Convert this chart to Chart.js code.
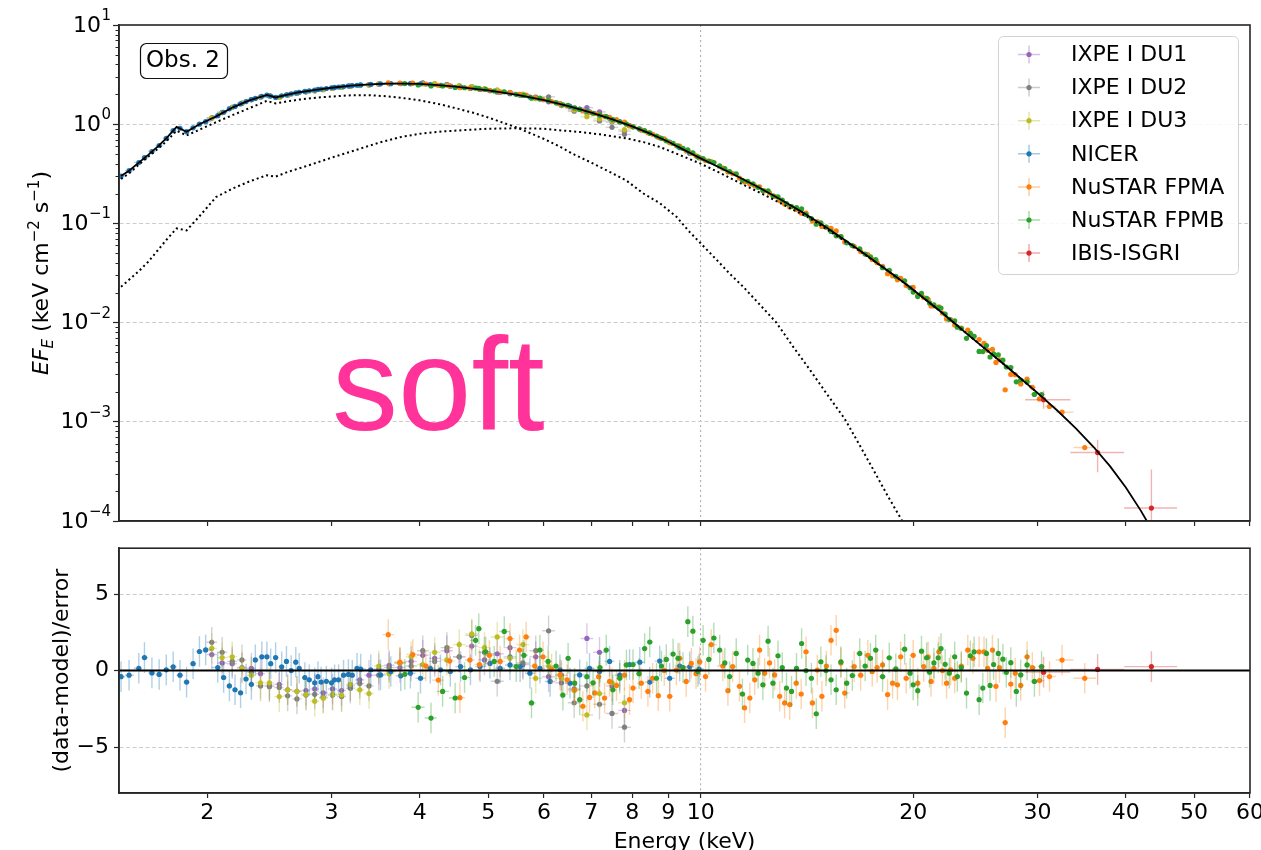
<!DOCTYPE html>
<html>
<head>
<meta charset="utf-8">
<title>Obs. 2 spectrum</title>
<script src="https://cdn.jsdelivr.net/npm/chart.js@4.4.1/dist/chart.umd.min.js"></script>
<style>
  html, body { margin: 0; padding: 0; background: #fff; }
  body { width: 1261px; height: 850px; overflow: hidden; position: relative; }
  #topWrap { position: absolute; left: 0; top: 0; }
  #resWrap { position: absolute; left: 0; top: 530px; }
</style>
</head>
<body>
<div id="topWrap"><canvas id="spectrumChart" width="1290" height="545"></canvas></div>
<div id="resWrap"><canvas id="residualChart" width="1290" height="340"></canvas></div>
<script>
// ---- axis ticks ----
const xTickValues = [2, 3, 4, 5, 6, 7, 8, 9, 10, 20, 30, 40, 50, 60];
const decadeTicks = [1e-4, 1e-3, 1e-2, 1e-1, 1, 10];
const residTicks = [-5, 0, 5];

// ---- best-fit model (keV, EF_E) ----
const modelEnergy = [1.51, 1.55, 1.60, 1.65, 1.70, 1.75, 1.81, 1.87, 1.95, 2.06,
  2.175, 2.295, 2.43, 2.50, 2.60, 2.70, 2.85, 3.0, 3.2, 3.4,
  3.6, 3.8, 4.0, 4.25, 4.5, 4.75, 5.0, 5.5, 6.0, 6.5,
  7.0, 7.5, 8.0, 8.5, 9.0, 9.5, 10, 11, 12, 13,
  14, 15, 16, 17, 18, 19, 20, 22, 24, 26,
  28, 30, 32, 34, 36, 38, 40, 42, 44];
const modelFlux = [0.30, 0.34, 0.41, 0.49, 0.59, 0.72, 0.94, 0.84, 1.00, 1.20,
  1.48, 1.74, 1.97, 1.86, 1.99, 2.10, 2.22, 2.33, 2.45, 2.52,
  2.56, 2.57, 2.55, 2.48, 2.39, 2.28, 2.19, 1.98, 1.75, 1.52,
  1.31, 1.12, 0.95, 0.80, 0.665, 0.545, 0.452, 0.326, 0.237, 0.173,
  0.127, 0.093, 0.068, 0.0503, 0.0375, 0.0283, 0.0214, 0.0125, 0.0074, 0.00464,
  0.00298, 0.00196, 0.0013, 0.00086, 0.00056, 0.000357, 0.000219, 0.000128, 0.0000725];

// disk component (dotted)
const diskEnergy = [1.51, 1.55, 1.60, 1.65, 1.70, 1.75, 1.81, 1.87, 1.95, 2.06,
  2.175, 2.295, 2.43, 2.50, 2.60, 2.70, 2.85, 3.0, 3.2, 3.4,
  3.6, 3.8, 4.0, 4.25, 4.5, 4.75, 5.0, 5.5, 6.0, 6.3,
  6.6, 7.0, 7.5, 7.85, 8.3, 8.75, 9.25, 9.6, 10, 10.5,
  11, 11.5, 12.2, 12.8, 13.5, 14.3, 15.1, 16.0, 16.8, 17.6,
  18.4, 19.3, 20.0];
const diskFlux = [0.28, 0.32, 0.39, 0.47, 0.56, 0.67, 0.86, 0.77, 0.88, 1.05,
  1.24, 1.45, 1.72, 1.62, 1.70, 1.77, 1.85, 1.90, 1.96, 1.96,
  1.91, 1.83, 1.74, 1.60, 1.45, 1.31, 1.17, 0.92, 0.71, 0.60,
  0.50, 0.41, 0.32, 0.27, 0.20, 0.16, 0.116, 0.085, 0.063, 0.044,
  0.031, 0.0228, 0.0145, 0.010, 0.0058, 0.0033, 0.0019, 0.00107, 0.00058, 0.00032,
  0.00018, 0.0001, 0.000063];

// comptonised component (dotted)
const comptEnergy = [1.51, 1.55, 1.60, 1.65, 1.70, 1.75, 1.81, 1.87, 1.95, 2.06,
  2.175, 2.295, 2.43, 2.50, 2.60, 2.80, 3.0, 3.25, 3.5, 3.75,
  4.0, 4.3, 4.66, 5.0, 5.5, 6.0, 6.3, 6.8, 7.2, 7.85,
  8.3, 8.75, 9.4, 10, 10.7, 11.5, 12.2, 12.8, 13.5, 14.3,
  15, 16, 17, 18, 19, 20, 22, 24, 26, 28, 30];
const comptFlux = [0.023, 0.027, 0.033, 0.041, 0.053, 0.068, 0.089, 0.085, 0.118, 0.185,
  0.225, 0.265, 0.306, 0.296, 0.33, 0.39, 0.46, 0.55, 0.65, 0.74,
  0.80, 0.845, 0.875, 0.90, 0.91, 0.90, 0.87, 0.83, 0.79, 0.72,
  0.66, 0.59, 0.48, 0.40, 0.318, 0.245, 0.20, 0.168, 0.138, 0.112,
  0.0895, 0.0664, 0.0498, 0.0373, 0.0282, 0.0214, 0.0125, 0.0074, 0.00464, 0.00298, 0.00196];

// ---- NICER ----
const nicerEnergy = [1.51, 1.55, 1.60, 1.63, 1.67, 1.71, 1.75, 1.79, 1.83, 1.87,
  1.91, 1.95, 1.99, 2.07, 2.11, 2.15, 2.19, 2.23, 2.27, 2.31,
  2.34, 2.39, 2.43, 2.46, 2.50, 2.55, 2.59, 2.63, 2.67, 2.70,
  2.75, 2.79, 2.84, 2.87, 2.90, 2.95, 3.00, 3.03, 3.07, 3.12,
  3.17, 3.21, 3.26, 3.30, 3.41, 3.52, 3.64, 3.76, 3.88, 4.01,
  4.14, 4.28, 4.42, 4.57, 4.72, 4.87, 5.03, 5.20, 5.37, 5.55,
  5.73, 5.92, 6.12, 6.32, 6.53, 6.74, 6.96, 7.19, 7.43, 7.68,
  7.93, 8.20, 8.47, 8.75, 9.04, 9.34, 9.65, 9.95];
const nicerFlux = [0.30, 0.34, 0.41, 0.46, 0.53, 0.61, 0.72, 0.86, 0.91, 0.84,
  0.92, 1.00, 1.06, 1.22, 1.32, 1.43, 1.51, 1.60, 1.69, 1.77,
  1.82, 1.91, 1.97, 1.92, 1.86, 1.93, 1.98, 2.02, 2.07, 2.10,
  2.14, 2.17, 2.21, 2.24, 2.26, 2.29, 2.33, 2.35, 2.37, 2.40,
  2.43, 2.45, 2.47, 2.49, 2.52, 2.55, 2.56, 2.57, 2.56, 2.55,
  2.51, 2.47, 2.42, 2.36, 2.29, 2.24, 2.18, 2.10, 2.03, 1.96,
  1.88, 1.79, 1.70, 1.61, 1.51, 1.42, 1.33, 1.24, 1.15, 1.06,
  0.97, 0.89, 0.81, 0.73, 0.66, 0.58, 0.51, 0.46];
const nicerResid = [-0.4, -0.3, 0.15, 0.85, -0.15, -0.25, 0.05, 0.25, -0.3, -0.75,
  0.45, 1.25, 1.35, 0.2, -0.45, -1.0, -1.25, -1.45, -0.55, -0.9,
  0.7, 0.9, 0.9, 0.45, 0.85, 0.25, 0.6, 0.0, 0.55, 0.15,
  -0.45, -0.6, -0.8, -0.4, -0.75, -0.7, -0.8, -0.6, -0.6, -0.3,
  -0.25, -0.3, 0.15, 0.1, 0.05, -0.28, -0.06, -0.34, -0.17, -0.5,
  0.15, 0.05, -0.06, 0.26, 0.05, 0.26, 0.47, 0.15, 0.37, 0.26,
  -0.17, 0.15, -0.71, 0.05, -0.82, -0.28, 0.15, -0.06, 0.6, -0.3,
  0.4, 0.55, -0.75, 0.62, -0.5, 0.3, 0.25, 0.1];

// ---- IXPE (same binning for the three detector units) ----
const ixpeEnergy = [2.03, 2.10, 2.17, 2.24, 2.31, 2.38, 2.45, 2.53, 2.60, 2.68,
  2.76, 2.84, 2.92, 3.01, 3.10, 3.19, 3.29, 3.39, 3.50, 3.62,
  3.75, 3.89, 4.04, 4.20, 4.37, 4.55, 4.74, 4.94, 5.15, 5.37,
  5.60, 5.84, 6.09, 6.35, 6.62, 6.90, 7.19, 7.49, 7.80];
const du1Flux = [1.15, 1.31, 1.48, 1.62, 1.77, 1.89, 1.93, 1.87, 1.97, 2.05,
  2.12, 2.18, 2.24, 2.30, 2.36, 2.42, 2.47, 2.51, 2.54, 2.57,
  2.58, 2.58, 2.59, 2.54, 2.50, 2.41, 2.36, 2.24, 2.18, 2.10,
  1.96, 1.86, 1.68, 1.54, 1.40, 1.47, 1.33, 1.05, 0.85];
const du1Resid = [1.05, 0.5, 0.45, 0.2, 0.15, -0.2, -0.95, -0.9, -1.25, -1.35,
  -1.3, -1.2, -1.45, -1.2, -1.3, -1.0, -0.6, -0.3, 0.1, 0.35,
  0.2, 0.6, 1.0, 0.8, 1.3, 0.9, 1.6, 0.7, 1.1, 1.5,
  0.4, 0.9, -0.4, -0.8, -1.2, 2.1, 1.2, -1.0, -2.6];
const du2Flux = [1.16, 1.32, 1.48, 1.63, 1.77, 1.87, 1.93, 1.87, 1.96, 2.04,
  2.12, 2.18, 2.23, 2.29, 2.35, 2.41, 2.46, 2.49, 2.53, 2.57,
  2.58, 2.57, 2.61, 2.53, 2.51, 2.41, 2.40, 2.26, 2.10, 2.08,
  1.96, 1.88, 1.89, 1.57, 1.35, 1.30, 1.08, 0.93, 0.79];
const du2Resid = [1.85, 1.2, 0.6, 0.7, -0.1, -1.0, -1.05, -1.1, -1.65, -1.85,
  -1.6, -1.55, -1.75, -1.6, -1.7, -1.15, -0.85, -1.0, -0.3, 0.2,
  0.5, 0.3, 1.3, 0.6, 1.5, 0.9, 2.3, 1.2, -0.7, 0.9,
  0.5, 1.3, 2.6, -0.3, -2.1, -1.0, -2.2, -2.8, -3.7];
const du3Flux = [1.16, 1.31, 1.48, 1.62, 1.76, 1.88, 1.93, 1.86, 1.97, 2.05,
  2.12, 2.17, 2.23, 2.29, 2.35, 2.42, 2.45, 2.48, 2.55, 2.56,
  2.58, 2.58, 2.55, 2.56, 2.47, 2.45, 2.40, 2.28, 2.22, 2.07,
  2.01, 1.81, 1.73, 1.56, 1.39, 1.19, 1.13, 1.07, 0.88];
const du3Resid = [1.45, 0.85, 0.9, 0.15, -0.3, -0.8, -0.8, -1.7, -1.25, -1.35,
  -1.55, -2.0, -1.8, -1.55, -1.6, -0.9, -1.25, -1.5, 0.3, -0.2,
  0.5, 0.9, 0.4, 1.2, 0.7, 1.7, 2.4, 1.5, 2.2, 0.8,
  1.7, -0.5, 0.3, -0.5, -1.3, -2.9, -1.5, -0.8, -2.1];

// ---- NuSTAR FPMA ----
const fpmaEnergy = [3.61, 3.75, 3.91, 4.08, 4.25, 4.41, 4.56, 4.71, 4.86, 5.02,
  5.20, 5.37, 5.54, 5.66, 5.82, 5.98, 6.15, 6.32, 6.47, 6.63,
  6.81, 6.96, 7.08, 7.17, 7.31, 7.43, 7.60, 7.80, 7.93, 8.02,
  8.24, 8.42, 8.55, 8.71, 8.88, 9.04, 9.24, 9.34, 9.54, 9.70,
  9.85, 9.97, 10.16, 10.35, 10.75, 10.93, 11.10, 11.35, 11.54, 11.74,
  11.93, 12.12, 12.32, 12.52, 12.73, 12.94, 13.15, 13.37, 13.66, 13.88,
  14.10, 14.40, 14.63, 14.85, 15.07, 15.30, 15.56, 15.80, 16.00, 16.50,
  16.85, 17.25, 17.50, 17.78, 18.10, 18.40, 18.70, 19.00, 19.20, 19.55,
  20.00, 20.30, 20.70, 21.00, 21.20, 21.40, 21.75, 22.00, 22.30, 22.60,
  22.90, 23.40, 23.90, 24.30, 24.80, 25.20, 25.50, 25.90, 26.20, 26.50,
  27.00, 27.50, 27.90, 28.40, 29.00, 29.50, 30.20, 31.20, 32.50, 35.00];
const fpmaFlux = [2.61, 2.58, 2.59, 2.54, 2.47, 2.43, 2.33, 2.31, 2.25, 2.20,
  2.11, 2.08, 2.00, 1.96, 1.86, 1.77, 1.69, 1.61, 1.53, 1.45,
  1.37, 1.32, 1.28, 1.26, 1.20, 1.17, 1.11, 1.05, 0.96, 0.94,
  0.87, 0.82, 0.79, 0.74, 0.71, 0.65, 0.61, 0.60, 0.54, 0.51,
  0.48, 0.46, 0.43, 0.42, 0.36, 0.33, 0.318, 0.287, 0.262, 0.249,
  0.239, 0.234, 0.213, 0.203, 0.187, 0.170, 0.157, 0.146, 0.138, 0.127,
  0.127, 0.106, 0.104, 0.0932, 0.0916, 0.0894, 0.0840, 0.0734, 0.0650, 0.0588,
  0.0520, 0.0486, 0.0433, 0.0402, 0.0370, 0.0311, 0.0296, 0.0270, 0.0279, 0.0236,
  0.0226, 0.0188, 0.0179, 0.0172, 0.0147, 0.0147, 0.0144, 0.0125, 0.0109, 0.0107,
  0.00948, 0.00882, 0.00840, 0.00732, 0.00675, 0.00619, 0.00526, 0.00538, 0.00397, 0.00422,
  0.00210, 0.00300, 0.00298, 0.00241, 0.00269, 0.00223, 0.00170, 0.00143, 0.00125, 0.00055];
const fpmaResid = [2.35, 0.55, 1.05, 0.3, -0.62, 0.62, -1.77, 0.69, 0.4, 1.0,
  0.6, 2.09, 1.34, 2.2, 0.3, 0.9, 0.1, -0.28, -0.6, -1.25,
  -2.33, -1.75, -1.46, -0.4, -1.79, -0.71, -0.97, -0.3, -1.9, -1.14,
  -0.82, -1.36, -0.5, -1.64, 0.0, -1.68, 0.04, 0.8, -0.71, 0.47,
  -0.2, 0.58, -0.39, 1.7, 0.3, -1.31, 0.26, -1.03, -2.43, -1.79,
  -0.6, 1.34, -0.17, 0.5, -0.28, -1.68, -2.11, -2.22, -0.82, -1.53,
  1.23, -2.11, 0.04, -1.68, 0.3, 1.98, 2.63, 0.5, -1.47, 0.26,
  -0.3, 1.0, -0.06, 0.2, 0.37, -1.57, -0.82, -0.93, 0.9, -0.5,
  1.0, -0.82, 0.26, 0.9, -0.71, 0.15, 1.23, 0.0, -0.82, 0.05,
  -0.5, 0.3, 1.34, 0.8, 1.23, 1.23, 0.15, 1.34, -1.03, 0.2,
  -3.4, -0.88, -0.17, -0.97, 0.9, 0.2, -0.65, -0.39, 0.69, -0.5];

// ---- NuSTAR FPMB ----
const fpmbEnergy = [3.81, 3.98, 4.15, 4.31, 4.49, 4.63, 4.80, 4.85, 4.96, 5.10,
  5.27, 5.48, 5.62, 5.76, 5.92, 6.08, 6.24, 6.38, 6.49, 6.63,
  6.74, 6.90, 7.04, 7.20, 7.35, 7.51, 7.68, 7.85, 8.02, 8.18,
  8.33, 8.47, 8.66, 8.80, 8.94, 9.14, 9.29, 9.44, 9.59, 9.75,
  9.91, 10.08, 10.27, 10.44, 10.64, 10.82, 10.99, 11.23, 11.46, 11.66,
  11.86, 12.06, 12.25, 12.46, 12.66, 12.87, 13.05, 13.23, 13.45, 13.67,
  13.90, 14.10, 14.35, 14.58, 14.80, 15.05, 15.30, 15.56, 15.80, 16.10,
  16.40, 16.80, 17.10, 17.40, 17.70, 18.10, 18.50, 18.90, 19.45, 19.80,
  20.00, 20.30, 20.55, 20.90, 21.10, 21.40, 21.70, 21.90, 22.20, 22.50,
  22.90, 23.10, 23.40, 23.80, 24.10, 24.40, 24.80, 25.10, 25.40, 25.70,
  26.00, 26.40, 26.80, 27.10, 27.50, 28.00, 28.40, 29.00, 29.70, 30.40];
const fpmbFlux = [2.57, 2.49, 2.43, 2.43, 2.35, 2.33, 2.31, 2.30, 2.24, 2.16,
  2.12, 1.99, 1.95, 1.83, 1.83, 1.73, 1.65, 1.57, 1.55, 1.46,
  1.41, 1.35, 1.29, 1.24, 1.19, 1.11, 1.05, 1.00, 0.94, 0.90,
  0.86, 0.82, 0.76, 0.72, 0.68, 0.64, 0.60, 0.57, 0.55, 0.515,
  0.47, 0.45, 0.425, 0.41, 0.38, 0.356, 0.333, 0.315, 0.272, 0.266,
  0.250, 0.231, 0.214, 0.213, 0.190, 0.185, 0.172, 0.158, 0.148, 0.144,
  0.140, 0.123, 0.112, 0.098, 0.101, 0.092, 0.083, 0.075, 0.0735, 0.0637,
  0.0598, 0.0555, 0.0491, 0.0460, 0.0431, 0.0358, 0.0337, 0.0292, 0.0264, 0.0224,
  0.0203, 0.0183, 0.0197, 0.0176, 0.0158, 0.0151, 0.0142, 0.0140, 0.0122, 0.0108,
  0.0104, 0.0090, 0.00872, 0.00694, 0.00780, 0.00727, 0.00512, 0.00510, 0.00586, 0.00450,
  0.00483, 0.00474, 0.00418, 0.00357, 0.00352, 0.00253, 0.00264, 0.00252, 0.00189, 0.00188];
const fpmbResid = [-0.24, -2.4, -3.1, -1.36, -1.79, -0.45, 1.98, 2.74, 1.23, 0.6,
  2.56, 0.26, 1.0, -2.11, 1.34, 0.6, 0.3, -1.6, 0.8, -0.82,
  -1.9, -0.4, -0.8, 0.2, 1.34, -1.25, -0.5, 0.37, 0.4, -0.2,
  1.44, 1.87, -0.5, 0.3, 0.73, 1.08, 0.8, 0.2, 3.2, 2.58,
  -0.06, 1.98, 0.73, 2.13, 1.34, 0.5, -0.39, 1.12, -1.53, 0.69,
  0.47, -0.17, -0.93, 1.92, -0.82, 0.97, 0.2, -1.14, -1.36, 0.15,
  1.77, 0.0, -0.5, -2.82, 0.58, 0.0, -0.6, -1.25, 0.58, -0.82,
  -0.32, 1.12, 0.3, 0.8, 1.34, -0.39, 0.84, 0.11, 1.4, -0.17,
  -0.93, -1.31, 1.27, 0.84, -0.1, 0.5, 0.84, 1.44, 0.41, -0.17,
  0.9, -0.39, 0.2, -1.47, 0.97, 1.23, -1.9, -1.14, 1.12, -0.97,
  0.4, 1.12, 0.75, -0.11, 0.52, -1.36, -0.28, 0.37, -0.71, 0.26];

// ---- INTEGRAL IBIS-ISGRI ----
const isgriEnergy = [30.6, 36.5, 43.5];
const isgriELo = [28.8, 33.4, 39.8];
const isgriEHi = [33.4, 39.8, 47.3];
const isgriFlux = [0.00167, 0.00049, 0.000135];
const isgriFluxLo = [0.00135, 0.00031, 0.00003];
const isgriFluxHi = [0.00205, 0.00066, 0.00033];
const isgriResid = [-0.1, 0.08, 0.26];

const FONT = "'DejaVu Sans', 'Liberation Sans', Arial, sans-serif";
const SPINE = '#262626';
const GRID_H = '#cdcdcd';
const GRID_V = '#b0b0b0';

const instruments = [
  { label: 'IXPE I DU1', color: '#9467bd' },
  { label: 'IXPE I DU2', color: '#7f7f7f' },
  { label: 'IXPE I DU3', color: '#bcbd22' },
  { label: 'NICER', color: '#1f77b4' },
  { label: 'NuSTAR FPMA', color: '#ff7f0e' },
  { label: 'NuSTAR FPMB', color: '#2ca02c' },
  { label: 'IBIS-ISGRI', color: '#d62728' }
];

function fade(hex, a) {
  const n = parseInt(hex.slice(1), 16);
  return `rgba(${(n >> 16) & 255}, ${(n >> 8) & 255}, ${n & 255}, ${a})`;
}

// bins are contiguous: each channel reaches half way (in log) to its neighbours
function binEdges(energies) {
  const lo = [], hi = [];
  energies.forEach((e, i) => {
    const prev = energies[i - 1], next = energies[i + 1];
    const l = prev ? Math.sqrt(prev * e) : e / Math.sqrt(next / e);
    const h = next ? Math.sqrt(e * next) : e * Math.sqrt(e / prev);
    lo.push(l); hi.push(h);
  });
  return { lo, hi };
}

// one scatter dataset with its error bars
function makeSet(inst, energies, values, order, opts) {
  const edges = opts.lo ? { lo: opts.lo, hi: opts.hi } : binEdges(energies);
  return {
    label: inst.label,
    order: order,
    data: energies.map((e, i) => ({ x: e, y: values[i] })),
    backgroundColor: inst.color,
    borderColor: inst.color,
    pointRadius: 2.6,
    pointHoverRadius: 2.6,
    pointBorderWidth: 0,
    barColor: fade(inst.color, 0.35),
    bars: energies.map((e, i) => ({
      x: e, y: values[i],
      xLo: edges.lo[i], xHi: edges.hi[i],
      yLo: opts.yLo ? opts.yLo(i) : null,
      yHi: opts.yHi ? opts.yHi(i) : null
    }))
  };
}

function modelLine(energies, flux, dashed) {
  return {
    type: 'line',
    order: dashed ? 1 : 0,
    data: energies.map((e, i) => ({ x: e, y: flux[i] })),
    borderColor: '#000',
    borderWidth: dashed ? 2 : 1.8,
    borderDash: dashed ? [2, 3] : [],
    pointRadius: 0,
    showLine: true,
    fill: false,
    tension: 0
  };
}

const errorBarPlugin = {
  id: 'errorBars',
  beforeDatasetDraw(chart, args) {
    const ds = chart.data.datasets[args.index];
    if (!ds.bars) return;
    const { ctx, chartArea: a, scales: { x, y } } = chart;
    ctx.save();
    ctx.beginPath();
    ctx.rect(a.left, a.top, a.right - a.left, a.bottom - a.top);
    ctx.clip();
    ctx.strokeStyle = ds.barColor;
    ctx.lineWidth = 1.4;
    ds.bars.forEach(b => {
      const px = x.getPixelForValue(b.x);
      const py = y.getPixelForValue(b.y);
      ctx.beginPath();
      ctx.moveTo(x.getPixelForValue(b.xLo), py);
      ctx.lineTo(x.getPixelForValue(b.xHi), py);
      if (b.yLo !== null) {
        ctx.moveTo(px, y.getPixelForValue(b.yLo));
        ctx.lineTo(px, y.getPixelForValue(b.yHi));
      }
      ctx.stroke();
    });
    ctx.restore();
  }
};

function drawFrame(chart) {
  const { ctx, chartArea: a } = chart;
  ctx.save();
  ctx.strokeStyle = SPINE;
  ctx.lineWidth = 1.6;
  ctx.strokeRect(a.left, a.top, a.right - a.left, a.bottom - a.top);
  ctx.restore();
}

function roundRect(ctx, x, y, w, h, r) {
  ctx.beginPath();
  ctx.moveTo(x + r, y);
  ctx.arcTo(x + w, y, x + w, y + h, r);
  ctx.arcTo(x + w, y + h, x, y + h, r);
  ctx.arcTo(x, y + h, x, y, r);
  ctx.arcTo(x, y, x + w, y, r);
  ctx.closePath();
}

// pieces of text laid out along a rotated baseline
function drawRotatedRich(ctx, parts, cx, cy) {
  ctx.save();
  ctx.translate(cx, cy);
  ctx.rotate(-Math.PI / 2);
  ctx.fillStyle = '#000';
  ctx.textBaseline = 'alphabetic';
  ctx.textAlign = 'left';
  let total = 0;
  parts.forEach(p => { ctx.font = p.font; p.w = ctx.measureText(p.text).width; total += p.w; });
  let x = -total / 2;
  parts.forEach(p => { ctx.font = p.font; ctx.fillText(p.text, x, p.dy); x += p.w; });
  ctx.restore();
}

const spectrumDecor = {
  id: 'spectrumDecor',
  afterDraw(chart) {
    const { ctx, chartArea: a, scales: { y } } = chart;
    // minor ticks on the log y axis
    ctx.save();
    ctx.strokeStyle = SPINE;
    ctx.lineWidth = 1;
    for (let p = -4; p < 1; p++) {
      for (let m = 2; m <= 9; m++) {
        const py = Math.round(y.getPixelForValue(m * Math.pow(10, p))) + 0.5;
        ctx.beginPath();
        ctx.moveTo(a.left - 3.5, py);
        ctx.lineTo(a.left, py);
        ctx.stroke();
      }
    }
    ctx.restore();
    drawFrame(chart);

    // decade labels 10^n
    ctx.save();
    ctx.fillStyle = '#000';
    ctx.textAlign = 'right';
    ctx.textBaseline = 'alphabetic';
    decadeTicks.forEach(v => {
      const exp = Math.round(Math.log10(v));
      const sup = exp < 0 ? '\u2212' + Math.abs(exp) : String(exp);
      const py = y.getPixelForValue(v);
      ctx.font = `15px ${FONT}`;
      const ws = ctx.measureText(sup).width;
      ctx.fillText(sup, 111, py - 5);
      ctx.font = `22px ${FONT}`;
      ctx.fillText('10', 111 - ws - 0.5, py + 6.5);
    });
    ctx.restore();

    // y label: EF_E (keV cm^-2 s^-1)
    drawRotatedRich(ctx, [
      { text: 'E', font: `italic 22px ${FONT}`, dy: 8 },
      { text: 'F', font: `italic 22px ${FONT}`, dy: 8 },
      { text: 'E', font: `italic 15px ${FONT}`, dy: 13 },
      { text: ' (keV cm', font: `22px ${FONT}`, dy: 8 },
      { text: '\u22122', font: `15px ${FONT}`, dy: -1 },
      { text: ' s', font: `22px ${FONT}`, dy: 8 },
      { text: '\u22121', font: `15px ${FONT}`, dy: -1 },
      { text: ')', font: `22px ${FONT}`, dy: 8 }
    ], 40, (a.top + a.bottom) / 2);

    // observation tag
    ctx.save();
    roundRect(ctx, 140.5, 43.5, 87, 35, 6);
    ctx.fillStyle = '#fff';
    ctx.fill();
    ctx.strokeStyle = '#111';
    ctx.lineWidth = 1.2;
    ctx.stroke();
    ctx.fillStyle = '#000';
    ctx.font = `23px ${FONT}`;
    ctx.textAlign = 'left';
    ctx.textBaseline = 'middle';
    ctx.fillText('Obs. 2', 146, 61.5);
    ctx.restore();

    // legend
    ctx.save();
    roundRect(ctx, 998.5, 36.5, 240, 238, 5);
    ctx.fillStyle = 'rgba(255,255,255,0.85)';
    ctx.fill();
    ctx.strokeStyle = '#d2d2d2';
    ctx.lineWidth = 1;
    ctx.stroke();
    instruments.forEach((inst, i) => {
      const cy = 54.5 + i * 33.1;
      const cx = 1029;
      ctx.strokeStyle = fade(inst.color, 0.4);
      ctx.lineWidth = 1.5;
      ctx.beginPath();
      ctx.moveTo(cx - 11, cy); ctx.lineTo(cx + 11, cy);
      ctx.moveTo(cx, cy - 9); ctx.lineTo(cx, cy + 9);
      ctx.stroke();
      ctx.fillStyle = inst.color;
      ctx.beginPath();
      ctx.arc(cx, cy, 2.6, 0, Math.PI * 2);
      ctx.fill();
      ctx.fillStyle = '#000';
      ctx.font = `22px ${FONT}`;
      ctx.textAlign = 'left';
      ctx.textBaseline = 'middle';
      ctx.fillText(inst.label, 1071, cy + 1);
    });
    ctx.restore();

    // overlay label
    ctx.save();
    ctx.fillStyle = '#ff3399';
    ctx.font = "132px 'Liberation Sans', Arial, Helvetica, sans-serif";
    ctx.textAlign = 'left';
    ctx.textBaseline = 'alphabetic';
    ctx.fillText('soft', 332, 430);
    ctx.restore();
  }
};

const residualDecor = {
  id: 'residualDecor',
  afterDatasetsDraw(chart) {
    const { ctx, chartArea: a, scales: { y } } = chart;
    const py = y.getPixelForValue(0);
    ctx.save();
    ctx.strokeStyle = '#000';
    ctx.lineWidth = 2;
    ctx.beginPath();
    ctx.moveTo(a.left, py);
    ctx.lineTo(a.right, py);
    ctx.stroke();
    ctx.restore();
  },
  afterDraw(chart) {
    drawFrame(chart);
  }
};

function xScale(showLabels) {
  return {
    type: 'logarithmic',
    min: 1.5,
    max: 60,
    afterBuildTicks: s => { s.ticks = xTickValues.map(v => ({ value: v })); },
    afterFit: s => { s.height = showLabels ? 77 : 24; },
    ticks: {
      display: showLabels,
      autoSkip: false,
      maxRotation: 0,
      minRotation: 0,
      padding: 2,
      color: '#000',
      font: { family: FONT, size: 22 },
      callback: v => String(v)
    },
    grid: {
      color: c => (c.tick && c.tick.value === 10) ? GRID_V : 'transparent',
      lineWidth: 1.1,
      drawTicks: true,
      tickLength: 5,
      tickColor: SPINE,
      tickWidth: 1.2
    },
    border: { display: true, color: SPINE, width: 1.6, dash: [2, 3] },
    title: {
      display: showLabels,
      text: 'Energy (keV)',
      color: '#000',
      font: { family: FONT, size: 22 },
      padding: { top: 0, bottom: 15 }
    }
  };
}

const baseOptions = {
  responsive: false,
  maintainAspectRatio: false,
  devicePixelRatio: 1,
  animation: false,
  events: [],
  plugins: { legend: { display: false }, tooltip: { enabled: false } }
};

// ---------- upper panel: unfolded spectrum ----------
const spectrumSets = [
  modelLine(modelEnergy, modelFlux, false),
  modelLine(diskEnergy, diskFlux, true),
  modelLine(comptEnergy, comptFlux, true),
  makeSet(instruments[6], isgriEnergy, isgriFlux, 2, {
    lo: isgriELo, hi: isgriEHi, yLo: i => isgriFluxLo[i], yHi: i => isgriFluxHi[i]
  }),
  makeSet(instruments[5], fpmbEnergy, fpmbFlux, 3, {}),
  makeSet(instruments[4], fpmaEnergy, fpmaFlux, 4, {}),
  makeSet(instruments[3], nicerEnergy, nicerFlux, 5, {}),
  makeSet(instruments[2], ixpeEnergy, du3Flux, 6, {}),
  makeSet(instruments[1], ixpeEnergy, du2Flux, 7, {}),
  makeSet(instruments[0], ixpeEnergy, du1Flux, 8, {})
];

new Chart(document.getElementById('spectrumChart'), {
  type: 'scatter',
  data: { datasets: spectrumSets },
  options: Object.assign({}, baseOptions, {
    layout: { padding: { left: 0, top: 25, right: 40, bottom: 0 } },
    scales: {
      x: xScale(false),
      y: {
        type: 'logarithmic',
        min: 1e-4,
        max: 10,
        afterBuildTicks: s => { s.ticks = decadeTicks.map(v => ({ value: v })); },
        afterFit: s => { s.width = 119; },
        ticks: { display: false },
        grid: {
          color: c => (c.tick && c.tick.value > 1e-4 && c.tick.value < 10) ? GRID_H : 'transparent',
          lineWidth: 1,
          tickLength: 6,
          tickColor: SPINE,
          tickWidth: 1.2
        },
        border: { display: true, color: SPINE, width: 1.6, dash: [4, 2.5] }
      }
    }
  }),
  plugins: [errorBarPlugin, spectrumDecor]
});

// ---------- lower panel: residuals ----------
const sigma = values => ({ yLo: i => values[i] - 1, yHi: i => values[i] + 1 });
const residualSets = [
  makeSet(instruments[6], isgriEnergy, isgriResid, 2, Object.assign({ lo: isgriELo, hi: isgriEHi }, sigma(isgriResid))),
  makeSet(instruments[5], fpmbEnergy, fpmbResid, 3, sigma(fpmbResid)),
  makeSet(instruments[4], fpmaEnergy, fpmaResid, 4, sigma(fpmaResid)),
  makeSet(instruments[3], nicerEnergy, nicerResid, 5, sigma(nicerResid)),
  makeSet(instruments[2], ixpeEnergy, du3Resid, 6, sigma(du3Resid)),
  makeSet(instruments[1], ixpeEnergy, du2Resid, 7, sigma(du2Resid)),
  makeSet(instruments[0], ixpeEnergy, du1Resid, 8, sigma(du1Resid))
];

new Chart(document.getElementById('residualChart'), {
  type: 'scatter',
  data: { datasets: residualSets },
  options: Object.assign({}, baseOptions, {
    layout: { padding: { left: 0, top: 15, right: 40, bottom: 0 } },
    scales: {
      x: xScale(true),
      y: {
        type: 'linear',
        min: -8,
        max: 8,
        afterBuildTicks: s => { s.ticks = residTicks.map(v => ({ value: v })); },
        afterFit: s => { s.width = 119; },
        ticks: {
          padding: 5,
          color: '#000',
          font: { family: FONT, size: 22 },
          callback: v => (v < 0 ? '\u2212' + Math.abs(v) : String(v))
        },
        grid: {
          color: c => (c.tick && c.tick.value !== 0) ? GRID_H : 'transparent',
          lineWidth: 1,
          tickLength: 5,
          tickColor: SPINE,
          tickWidth: 1.2
        },
        border: { display: true, color: SPINE, width: 1.6, dash: [4, 2.5] },
        title: {
          display: true,
          text: '(data-model)/error',
          color: '#000',
          font: { family: FONT, size: 22 },
          padding: { top: 49, bottom: 0 }
        }
      }
    }
  }),
  plugins: [errorBarPlugin, residualDecor]
});
</script>
</body>
</html>
